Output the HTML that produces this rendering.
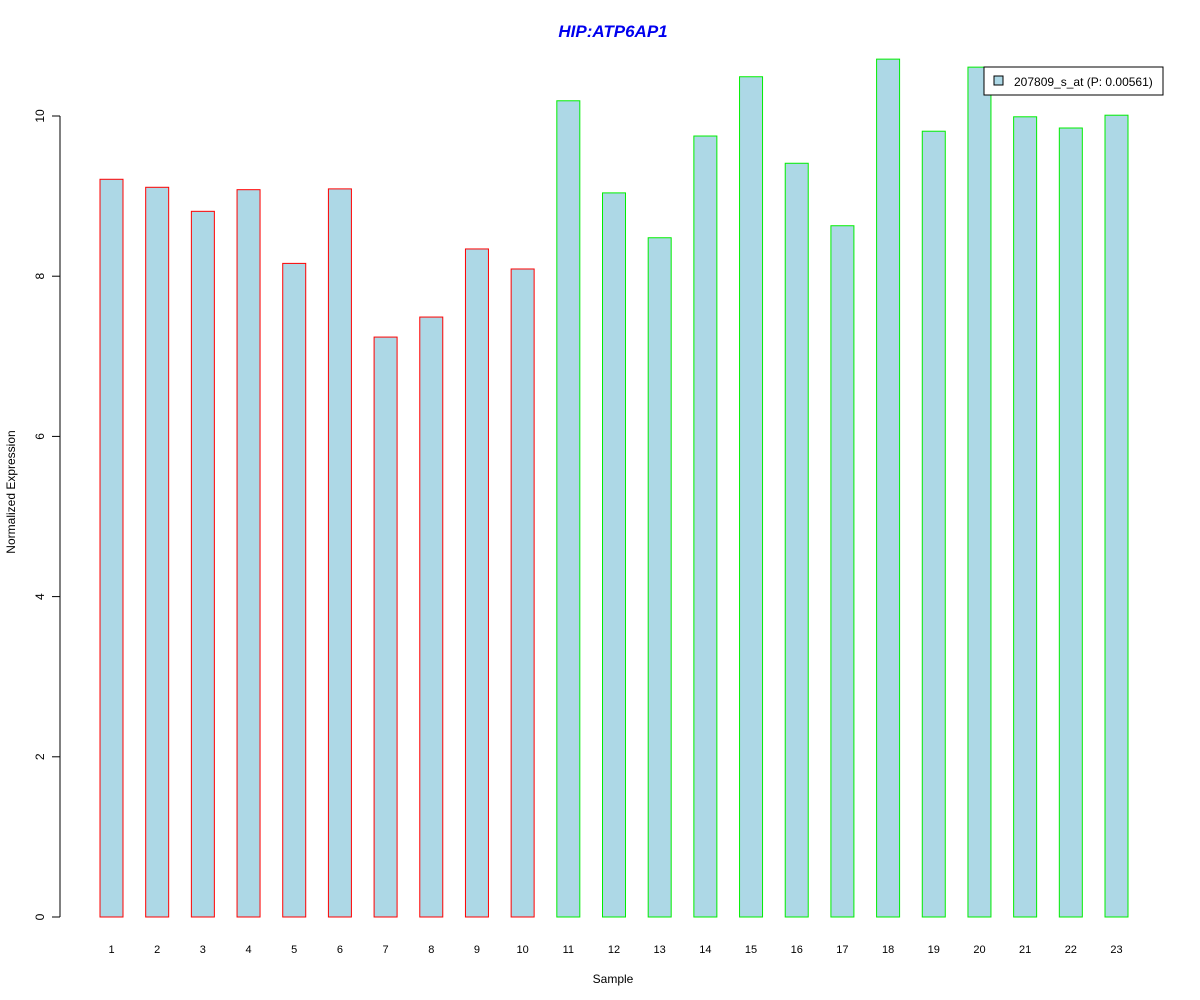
<!DOCTYPE html>
<html><head><meta charset="utf-8">
<style>
body{margin:0;background:#fff;}
svg{display:block;font-family:"Liberation Sans",Arial,sans-serif;}
</style></head>
<body>
<svg id="chart" width="1200" height="1000" viewBox="0 0 1200 1000" xmlns="http://www.w3.org/2000/svg">
<rect width="1200" height="1000" fill="#fff"/>
<text x="613" y="37" text-anchor="middle" font-size="17" font-weight="bold" font-style="italic" fill="#0000ee">HIP:ATP6AP1</text>
<g id="yaxis"></g>
<g id="bars"></g>
<g id="xlabels"></g>
<text x="613" y="983" text-anchor="middle" font-size="12">Sample</text>
<text transform="translate(15,492) rotate(-90)" text-anchor="middle" font-size="12">Normalized Expression</text>
<g>
<rect x="984" y="67" width="179" height="28" fill="#fff" stroke="#000" stroke-width="1"/>
<rect x="994" y="76" width="9" height="9" fill="#add8e6" stroke="#000"/>
<text x="1014" y="86" font-size="12">207809_s_at (P: 0.00561)</text>
</g>
</svg>
<script>
const categories = ["1","2","3","4","5","6","7","8","9","10","11","12","13","14","15","16","17","18","19","20","21","22","23"];
const values = [9.21,9.11,8.81,9.08,8.16,9.09,7.24,7.49,8.34,8.09,10.19,9.04,8.48,9.75,10.49,9.41,8.63,10.71,9.81,10.61,9.99,9.85,10.01];
const groups = ["a","a","a","a","a","a","a","a","a","a","b","b","b","b","b","b","b","b","b","b","b","b","b"];
const yTicks = [0,2,4,6,8,10];
const NS="http://www.w3.org/2000/svg";
const y0=917, pxPerUnit=80.1;
function yScale(v){return y0 - v*pxPerUnit;}
const x0=111.5, step=(1116.5-111.5)/22, bw=23;
function xScale(i){return x0 + i*step;}
function mk(tag,attrs,parent){const e=document.createElementNS(NS,tag);for(const k in attrs)e.setAttribute(k,attrs[k]);parent.appendChild(e);return e;}
const ya=document.getElementById('yaxis');
const axl=mk('line',{x1:60,x2:60,y1:yScale(yTicks[yTicks.length-1]),y2:yScale(yTicks[0]),stroke:'#000'},ya);


yTicks.forEach(t=>{
  const y=yScale(t);
  const tk=mk('line',{x1:52,x2:60,y1:y,y2:y,stroke:'#000'},ya);
  
  
  const tx=mk('text',{transform:`translate(44,${y}) rotate(-90)`,'text-anchor':'middle','font-size':12},ya);
  
  
  tx.textContent=t;
});
const bg=document.getElementById('bars'), xl=document.getElementById('xlabels');
values.forEach((v,i)=>{
  const cx=xScale(i), top=yScale(v);
  const r=mk('rect',{x:cx-bw/2,y:top,width:bw,height:y0-top,fill:'#add8e6',stroke:groups[i]==='a'?'#ff0000':'#00ee00','stroke-width':1},bg);
  
  
  const t=mk('text',{x:cx,y:953,'text-anchor':'middle','font-size':11},xl);
  
  
  t.textContent=categories[i];
});
</script>
</body></html>
